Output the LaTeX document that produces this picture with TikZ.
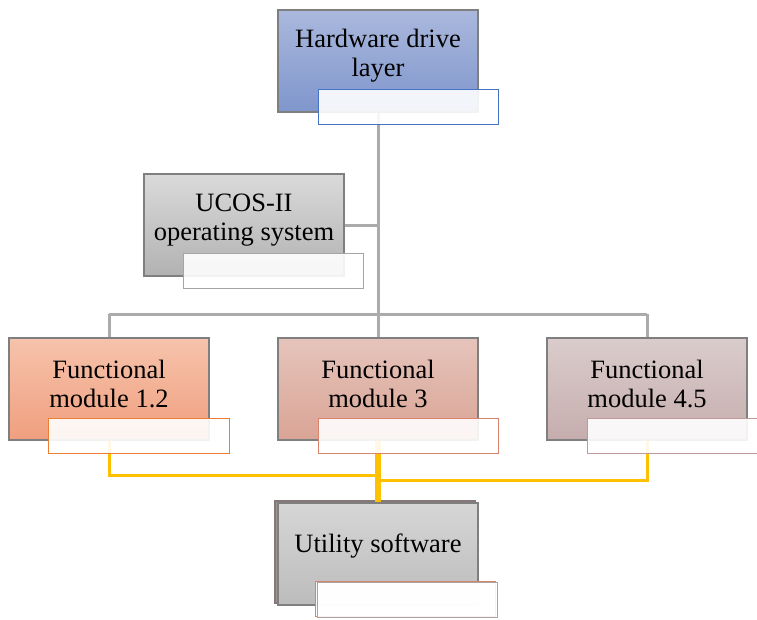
\documentclass[tikz,border=0pt]{standalone}
\usepackage{fontspec}
\setmainfont{Liberation Serif}
\definecolor{linegray}{HTML}{ABABAB}
\definecolor{lineyellow}{HTML}{FFC000}
\definecolor{bordergray}{HTML}{7F7F7F}
\definecolor{hwtop}{HTML}{AAB8DD}
\definecolor{hwbot}{HTML}{7F96CC}
\definecolor{ustop}{HTML}{DADADA}
\definecolor{usbot}{HTML}{B2B2B2}
\definecolor{fatop}{HTML}{F6C3AC}
\definecolor{fabot}{HTML}{F09F7E}
\definecolor{fbtop}{HTML}{E6C4BB}
\definecolor{fbbot}{HTML}{D9A495}
\definecolor{fctop}{HTML}{DACCCC}
\definecolor{fcbot}{HTML}{C6ADAD}
\definecolor{uttop}{HTML}{D6D6D6}
\definecolor{utbot}{HTML}{BCBCBC}
\definecolor{utback}{HTML}{857878}
\definecolor{lblblue}{HTML}{4472C4}
\definecolor{lblgray}{HTML}{A5A5A5}
\definecolor{lblorange}{HTML}{ED7D31}
\definecolor{lblrose}{HTML}{D9826C}
\definecolor{lblmauve}{HTML}{C09A9A}
\tikzset{
  mainbox/.style={draw=bordergray, line width=1.2pt, minimum width=200pt, minimum height=102pt, inner sep=0pt},
  lblbox/.style={fill=white, fill opacity=0.9, line width=1pt, minimum width=180pt, minimum height=35pt, inner sep=0pt},
  txt/.style={font=\fontsize{26.5}{29}\selectfont, align=center, inner sep=0pt},
  gline/.style={draw=linegray, line width=3pt},
  yline/.style={draw=lineyellow, line width=3pt},
}
\begin{document}
\begin{tikzpicture}[x=1pt,y=-1pt]
\useasboundingbox (0,0) rectangle (757,619);
% junction coordinates
\coordinate (jtop) at (378,314);
\coordinate (jl) at (109,314);
\coordinate (jr) at (647,314);
\coordinate (ju) at (378,225);
\coordinate (yl1) at (109,475);
\coordinate (yl2) at (378,475);
\coordinate (yr1) at (647,480);
\coordinate (yr2) at (378,480);
% main boxes
\node[mainbox, top color=hwtop, bottom color=hwbot] (hw) at (378,61) {};
\node[mainbox, top color=ustop, bottom color=usbot] (ucos) at (244,225) {};
\node[mainbox, top color=fatop, bottom color=fabot] (fm1) at (109,389) {};
\node[mainbox, top color=fbtop, bottom color=fbbot] (fm3) at (378,389) {};
\node[mainbox, top color=fctop, bottom color=fcbot] (fm4) at (647,389) {};
% connectors
\path[gline] (hw.south) -- (jtop);
\path[gline] (ucos.east) -- (ju);
\path[gline] (jl) -- (jr);
\path[gline] (jl) -- (fm1.north);
\path[gline] (jtop) -- (fm3.north);
\path[gline] (jr) -- (fm4.north);
\path[yline] (fm1.south) -- (yl1) -- (yl2);
\path[yline] (fm4.south) -- (yr1) -- (yr2);
% utility software (stacked)
\node[mainbox, draw=utback, fill=utback!80] (utb) at (375,552) {};
\node[mainbox, top color=uttop, bottom color=utbot] (ut) at (378,554) {};
\path[yline, line width=5.5pt] (fm3.south) -- (ut.north);
% texts
\node[txt] (hwt) at (378,56) {Hardware drive\\layer};
\node[txt] (ucost) at (244,220) {UCOS-II\\operating system};
\node[txt] (fm1t) at (109,384) {Functional\\module 1.2};
\node[txt] (fm3t) at (378,384) {Functional\\module 3};
\node[txt] (fm4t) at (647,384) {Functional\\module 4.5};
\node[txt] (utt) at (378,546) {Utility software};
% label boxes
\node[lblbox, draw=lblblue] (hwl) at (408,106.5) {};
\node[lblbox, draw=lblgray] (ucosl) at (273,271) {};
\node[lblbox, draw=lblorange, minimum width=181pt] (fm1l) at (138.5,435.5) {};
\node[lblbox, draw=lblrose] (fm3l) at (408,435.5) {};
\node[lblbox, draw=lblmauve] (fm4l) at (677,435.5) {};
\node[lblbox, draw=lblrose] (utlb) at (405,598.5) {};
\node[lblbox, draw=lblgray] (utl) at (407.5,600) {};
\end{tikzpicture}
\end{document}
